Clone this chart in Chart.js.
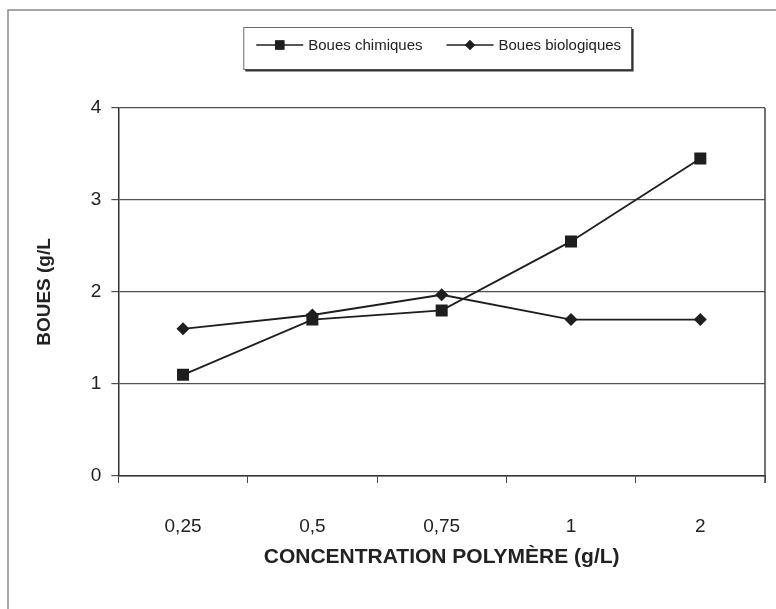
<!DOCTYPE html>
<html>
<head>
<meta charset="utf-8">
<script src="https://cdn.jsdelivr.net/npm/chart.js@4"></script>
<style>
    html, body { margin: 0; padding: 0; background: #fff; }
    #wrap { width: 776px; height: 609px; position: relative; }
</style>
</head>
<body>
<div id="wrap"><canvas id="chartBoues"></canvas></div>
<script>
// Boues produites selon la concentration en polymère
const CONCENTRATIONS = ['0,25', '0,5', '0,75', '1', '2'];
const BOUES_CHIMIQUES = [1.1, 1.7, 1.8, 2.55, 3.45];
const BOUES_BIOLOGIQUES = [1.6, 1.75, 1.97, 1.7, 1.7];
const Y_TICKS = [0, 1, 2, 3, 4];

const INK = '#1e1e1e';
const FONT = "'Liberation Sans', Arial, sans-serif";

// legend drawn by hand: line + marker, inside a framed box
const boxedLegend = {
    id: 'boxedLegend',
    afterDraw(chart) {
        const ctx = chart.ctx;
        const area = chart.chartArea;
        ctx.save();
        ctx.font = '15px ' + FONT;
        const lineLen = 47, gap = 5, itemGap = 24;
        const items = chart.data.datasets.map(ds => ({
            ds, w: lineLen + gap + ctx.measureText(ds.label).width
        }));
        const total = items.reduce((a, it) => a + it.w, 0) + itemGap * (items.length - 1);
        let x = (area.left + area.right) / 2 - total / 2 - 3;
        const cy = 45;

        // frame + shadow
        const bx = x - 13, by = 27, bw = total + 23, bh = 42;
        ctx.strokeStyle = '#6a6a6a';
        ctx.lineWidth = 1;
        ctx.strokeRect(bx + 0.5, by + 0.5, bw, bh);
        ctx.strokeStyle = '#333';
        ctx.lineWidth = 2;
        ctx.beginPath();
        ctx.moveTo(bx + 2, by + bh + 1.5);
        ctx.lineTo(bx + bw + 1.5, by + bh + 1.5);
        ctx.lineTo(bx + bw + 1.5, by + 2);
        ctx.stroke();

        items.forEach(it => {
            ctx.strokeStyle = INK;
            ctx.lineWidth = 1.5;
            ctx.beginPath();
            ctx.moveTo(x, cy);
            ctx.lineTo(x + lineLen, cy);
            ctx.stroke();
            Chart.helpers.drawPoint(ctx, {
                pointStyle: it.ds.pointStyle,
                radius: it.ds.pointStyle === 'rect' ? 6.5 : 5,
                borderWidth: 0
            }, x + lineLen / 2, cy);
            ctx.fillStyle = INK;
            ctx.fill();
            ctx.fillStyle = '#222';
            ctx.textBaseline = 'middle';
            ctx.textAlign = 'left';
            ctx.fillText(it.ds.label, x + lineLen + gap, cy + 1);
            x += it.w + itemGap;
        });
        ctx.restore();
    }
};

// outer frame of the figure and right edge of the plot
const frames = {
    id: 'frames',
    beforeDraw(chart) {
        const ctx = chart.ctx;
        ctx.save();
        ctx.strokeStyle = '#8a8a8a';
        ctx.lineWidth = 1.5;
        ctx.beginPath();
        ctx.moveTo(8, chart.height);
        ctx.lineTo(8, 10);
        ctx.lineTo(chart.width, 10);
        ctx.stroke();
        ctx.restore();
    },
    afterDraw(chart) {
        const ctx = chart.ctx;
        const a = chart.chartArea;
        ctx.save();
        ctx.strokeStyle = '#444';
        ctx.lineWidth = 1.5;
        ctx.beginPath();
        ctx.moveTo(a.right, a.top);
        ctx.lineTo(a.right, a.bottom + 7);
        ctx.stroke();
        ctx.restore();
    }
};

new Chart(document.getElementById('chartBoues'), {
    type: 'line',
    data: {
        labels: CONCENTRATIONS,
        datasets: [
            {
                label: 'Boues chimiques',
                data: BOUES_CHIMIQUES,
                borderColor: INK,
                backgroundColor: INK,
                borderWidth: 1.8,
                pointStyle: 'rect',
                pointRadius: 8.5,
                pointHoverRadius: 8.5,
                pointBorderWidth: 0,
                tension: 0
            },
            {
                label: 'Boues biologiques',
                data: BOUES_BIOLOGIQUES,
                borderColor: INK,
                backgroundColor: INK,
                borderWidth: 1.8,
                pointStyle: 'rectRot',
                pointRadius: 6.5,
                pointHoverRadius: 6.5,
                pointBorderWidth: 0,
                tension: 0
            }
        ]
    },
    options: {
        responsive: true,
        maintainAspectRatio: false,
        animation: false,
        layout: { padding: { top: 108, right: 11, bottom: 30, left: 33 } },
        plugins: {
            legend: { display: false },
            tooltip: { enabled: false }
        },
        scales: {
            x: {
                offset: true,
                grid: {
                    offset: true,
                    drawOnChartArea: false,
                    drawTicks: true,
                    tickLength: 7,
                    color: '#444'
                },
                border: { display: true, color: '#333', width: 1.5 },
                ticks: { color: '#222', padding: 32, font: { family: FONT, size: 19 } },
                title: {
                    display: true,
                    text: 'CONCENTRATION POLYMÈRE (g/L)',
                    color: '#222',
                    padding: { top: -25, bottom: 9 },
                    font: { family: FONT, size: 21, weight: 'bold' }
                }
            },
            y: {
                min: 0,
                max: 4,
                afterBuildTicks: axis => { axis.ticks = Y_TICKS.map(v => ({ value: v })); },
                grid: {
                    color: '#505050',
                    lineWidth: 1.2,
                    drawTicks: true,
                    tickLength: 7
                },
                border: { display: true, color: '#333', width: 1.5 },
                ticks: { color: '#222', padding: 10, font: { family: FONT, size: 19 } },
                title: {
                    display: true,
                    text: 'BOUES (g/L',
                    color: '#222',
                    padding: { top: 0, bottom: 25 },
                    font: { family: FONT, size: 19, weight: 'bold' }
                }
            }
        }
    },
    plugins: [frames, boxedLegend]
});
</script>
</body>
</html>
